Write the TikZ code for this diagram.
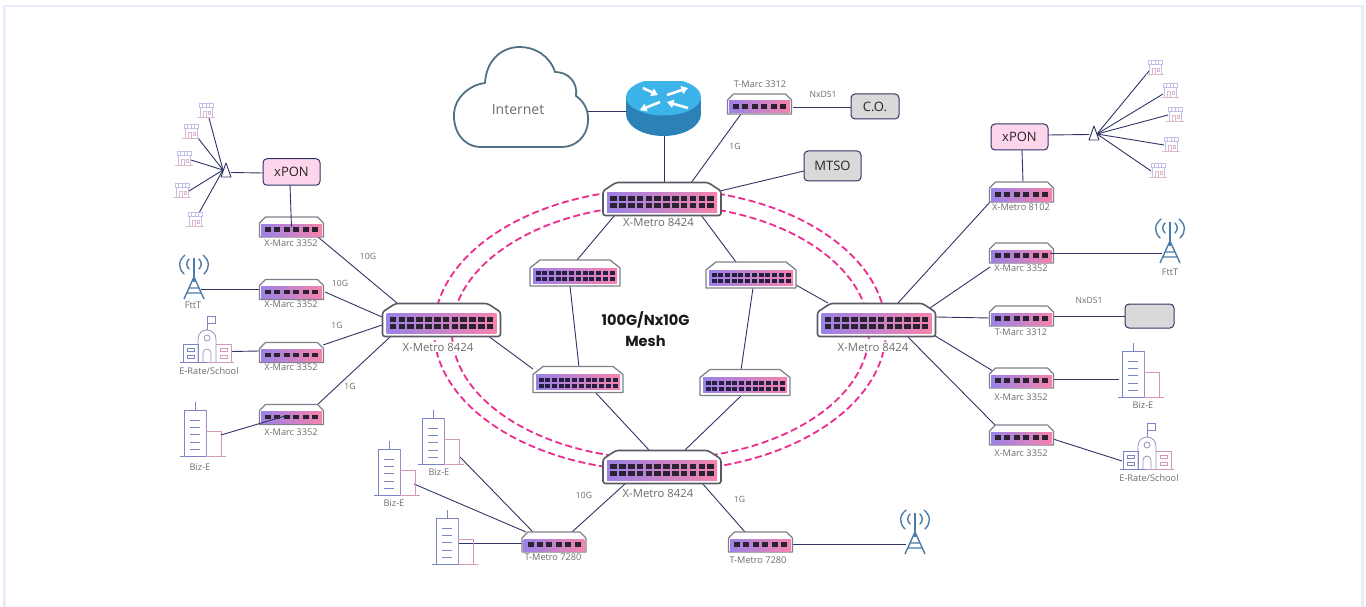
\documentclass[tikz,border=0pt]{standalone}
\usepackage{fontspec}
\setmainfont{Open Sans}
\newfontfamily\meshfont{Poppins}
\usetikzlibrary{arrows.meta}
\pgfdeclarelayer{bg}\pgfsetlayers{bg,main}
\definecolor{wire}{HTML}{2F3464}
\definecolor{ringc}{HTML}{EE2A8C}
\definecolor{grad1}{HTML}{9A82E6}
\definecolor{grad2}{HTML}{DC9CD0}
\definecolor{grad3}{HTML}{F683AC}
\definecolor{labelc}{HTML}{6C6C6C}
\definecolor{casec}{HTML}{80808C}
\definecolor{casedark}{HTML}{5A5A66}
\definecolor{portc}{HTML}{2A2230}
\definecolor{framec}{HTML}{ECECF8}
\definecolor{ponc}{HTML}{FDD6EB}
\definecolor{boxc}{HTML}{D9D9D9}
\definecolor{icona}{HTML}{7A84C6}
\definecolor{iconb}{HTML}{D29AB8}
\definecolor{iconc}{HTML}{C6BEEA}
\definecolor{towerc}{HTML}{4B7BA8}
\definecolor{cloudc}{HTML}{4F7184}
\definecolor{rtop}{HTML}{3CB4EA}
\definecolor{rside}{HTML}{2C82B6}
\tikzset{
  wirel/.style={draw=wire,line width=0.9pt},
  ringl/.style={draw=ringc,line width=1.8pt,dash pattern=on 7pt off 3.5pt},
  anchorbox/.style={inner sep=0pt,outer sep=0pt,rectangle},
  lab/.style={text=labelc,inner sep=0.5pt,font=\fontsize{9.2}{10}\selectfont},
  biglab/.style={text=labelc,inner sep=0pt,text height=9pt,text depth=1pt,fill=white,font=\fontsize{11.3}{13}\selectfont},
  tinylab/.style={text=labelc,inner sep=0.5pt,font=\fontsize{8.6}{10}\selectfont},
  graybox/.style={draw=wire,line width=1pt,fill=boxc,rounded corners=4pt,inner sep=0pt,text=black!85,font=\fontsize{13}{15}\selectfont},
  ponbox/.style={draw=wire,line width=1pt,fill=ponc,rounded corners=4pt,inner sep=0pt,text=black!85,font=\fontsize{13}{15}\selectfont},
  iconA/.style={draw=icona,line width=0.8pt},
  iconB/.style={draw=iconb,line width=0.8pt},
  shopl/.style={draw=iconc,line width=0.7pt},
  towerl/.style={draw=towerc,line width=1.4pt},
}
% small switch: name, x, y
\newcommand\swsmall[3]{
  \node[anchorbox,minimum width=64pt,minimum height=20pt] (#1) at (#2,#3) {};
  \begin{scope}[shift={(#2,#3)}]
    \draw[draw=casec,line width=1.1pt,fill=white,line join=round] (-32,10) -- (32,10) -- (32,-4) -- (26,-10) -- (-26,-10) -- (-32,-4) -- cycle;
    \shade[left color=grad1,middle color=grad2,right color=grad3] (-30.5,-3) rectangle (30.5,9);
    \foreach \i in {0,...,5} \fill[portc] ({-26.5+9.4*\i},0) rectangle ++(6,4.6);
  \end{scope}
}
% medium switch
\newcommand\swmid[3]{
  \node[anchorbox,minimum width=90pt,minimum height=26pt] (#1) at (#2,#3) {};
  \begin{scope}[shift={(#2,#3)}]
    \draw[draw=casec,line width=1.3pt,fill=white,line join=round] (-45,13) -- (45,13) -- (45,-5) -- (35,-13) -- (-35,-13) -- (-45,-5) -- cycle;
    \shade[left color=grad1,middle color=grad2,right color=grad3] (-42,-5) rectangle (42,10);
    \foreach \i in {0,...,11} {
      \fill[portc!90!blue] ({-39.5+6.73*\i},-2) rectangle ++(5,4);
      \fill[portc!90!blue] ({-39.5+6.73*\i},4) rectangle ++(5,4);
    }
  \end{scope}
}
% large switch
\newcommand\swbig[3]{
  \node[anchorbox,minimum width=118pt,minimum height=33pt] (#1) at (#2,#3) {};
  \begin{scope}[shift={(#2,#3)}]
    \draw[draw=casedark,line width=1.6pt,fill=white,rounded corners=2.5pt] (-59,16.5) -- (59,16.5) -- (59,-8) -- (46,-16.5) -- (-46,-16.5) -- (-59,-8) -- cycle;
    \shade[left color=grad1,middle color=grad2,right color=grad3] (-55,-6.5) rectangle (55,13.5);
    \foreach \i in {0,...,11} {
      \fill[portc] ({-51.7+8.82*\i},-3.2) rectangle ++(6.6,5);
      \fill[portc] ({-51.7+8.82*\i},4) rectangle ++(6.6,5);
    }
  \end{scope}
}
% storefront icon
\newcommand\shop[3]{
  \node[anchorbox,minimum width=16pt,minimum height=15pt] (#1) at (#2,#3) {};
  \begin{scope}[shift={(#2,#3)}]
    \draw[shopl] (-7,-7) rectangle (7,-2.5);
    \draw[shopl] (-3.5,-7) -- (-3.5,-2.5) (0,-7) -- (0,-2.5) (3.5,-7) -- (3.5,-2.5);
    \draw[shopl] (-6,-2.5) -- (-6,7) (6,-2.5) -- (6,7);
    \draw[iconb!70,line width=0.7pt] (-9,7) -- (9,7);
    \draw[iconb!70,line width=0.6pt] (-3,1) rectangle (0,7) (2,1) rectangle (4.5,4);
  \end{scope}
}
% building icon
\newcommand\bldg[3]{
  \node[anchorbox,minimum width=44pt,minimum height=54pt] (#1) at (#2,#3) {};
  \begin{scope}[shift={(#2,#3)}]
    \draw[iconA] (-8,-27) -- (-8,-19) (-19,27) -- (-19,-19) -- (3,-19);
    \draw[icona!60!iconb,line width=0.8pt] (3,-19) -- (3,27);
    \draw[iconB] (3,2) -- (18,2) -- (18,27);
    \foreach \yy in {-9,-2,5,13,20} \draw[icona,line width=0.9pt] (-13,\yy) -- (-3,\yy);
    \draw[iconA] (-23,27) -- (3,27);
    \draw[iconB] (3,27) -- (23,27);
  \end{scope}
}
% school icon
\newcommand\school[3]{
  \node[anchorbox,minimum width=54pt,minimum height=46pt] (#1) at (#2,#3) {};
  \begin{scope}[shift={(#2,#3)}]
    \draw[iconA] (-27,23) -- (0,23);
    \draw[iconB] (0,23) -- (27,23);
    \draw[iconA] (-9,23) -- (-9,5) -- (-24,5) -- (-24,23);
    \draw[iconB] (9,5) -- (24,5) -- (24,23);
    \draw[icona!60!iconb,line width=0.8pt] (-9,23) -- (-9,0) arc[start angle=180,end angle=360,radius=9] -- (9,23);
    \draw[iconA] (0,-9) -- (0,-23) -- (8,-23) -- (8,-16) -- (0,-16);
    \draw[icona!60!iconb,line width=0.8pt] (0,-1) circle[radius=3];
    \draw[icona!60!iconb,line width=0.8pt] (-4,23) -- (-4,14) arc[start angle=180,end angle=360,radius=4] -- (4,23);
    \draw[iconA] (-20,9) rectangle (-13,12) (-20,16) rectangle (-13,19);
    \draw[iconB] (13,9) rectangle (20,12) (13,16) rectangle (20,19);
  \end{scope}
}
% tower icon
\newcommand\tower[3]{
  \node[anchorbox,minimum width=20pt,minimum height=46pt] (#1) at (#2,#3) {};
  \begin{scope}[shift={(#2,#3)}]
    \draw[towerl] (0,-18) -- (0,6);
    \draw[towerl] (0,1) -- (-10,23) (0,1) -- (10,23) (-5.5,12) -- (5.5,12) (-7.5,17) -- (7.5,17);
    \draw[towerl,line cap=round] (-9,-21) .. controls (-16,-15) and (-16,-8) .. (-10,-2);
    \draw[towerl,line cap=round] (-5,-17) .. controls (-8,-14) and (-8,-10) .. (-5,-7);
    \draw[towerl,line cap=round] (9,-21) .. controls (16,-15) and (16,-8) .. (10,-2);
    \draw[towerl,line cap=round] (5,-17) .. controls (8,-14) and (8,-10) .. (5,-7);
  \end{scope}
}
\newcommand\splitter[3]{
  \node[anchorbox,minimum width=10pt,minimum height=14pt] (#1) at (#2,#3) {};
}
\newcommand\splittershape[1]{
  \draw[wirel,fill=white,line join=round] ([shift={(0,-7)}]#1.center) -- ([shift={(5,7)}]#1.center) -- ([shift={(-5,7)}]#1.center) -- cycle;
}
\newcommand\lk[4]{\draw[wirel] ([shift={(#2)}]#1.center) -- ([shift={(#4)}]#3.center);}
\begin{document}
\begin{tikzpicture}[x=1pt,y=-1pt]
\useasboundingbox (0,0) rectangle (1366,607);
% frame
\fill[framec] (3,5) rectangle (1364,7.5);
\fill[framec] (3,5) rectangle (6,607);
\fill[framec] (1361,5) rectangle (1364,607);

% cloud
\draw[draw=cloudc,line width=1.8pt,fill=white,line join=round]
  (480,147) .. controls (462,146) and (453,130) .. (454,113)
  .. controls (455,98) and (469,85) .. (485,83)
  .. controls (486,62) and (500,47) .. (520,47)
  .. controls (535,47) and (550,56) .. (555,72)
  .. controls (568,72) and (578,82) .. (576,96)
  .. controls (585,102) and (589,112) .. (588,122)
  .. controls (587,137) and (575,147) .. (562,147) -- cycle;
\node[inner sep=0pt,text=labelc,font=\fontsize{14}{16}\selectfont] (inet) at (518,110) {Internet};

% router
\node[anchorbox,minimum width=75pt,minimum height=54pt] (router) at (663.5,109) {};
\begin{scope}
  \clip (626,82) rectangle (701,136);
  \fill[rside] (626,97) rectangle (701,114);
  \fill[rside] (663.5,114) ellipse[x radius=37.5,y radius=22];
  \fill[rtop] (663.5,97) ellipse[x radius=37.5,y radius=18.5];
\end{scope}
\begin{scope}[line width=2.6pt,white,-{Triangle[width=8pt,length=6.5pt]}]
  \draw (643,88) -- (658,95);
  \draw (667,95) -- (688,88);
  \draw (660,102) -- (640,110);
  \draw (688,108) -- (667,102);
\end{scope}

% switches
\swbig{top}{662}{199}
\swbig{bigL}{441.5}{320}
\swbig{bigR}{876.5}{320}
\swbig{bot}{662}{467}
\swmid{mA}{575}{273}
\swmid{mB}{751}{275}
\swmid{mC}{578}{379.5}
\swmid{mD}{745}{382.5}
\swsmall{mLa}{291.5}{227}
\swsmall{mLb}{291.5}{289.5}
\swsmall{mLc}{291.5}{352.5}
\swsmall{mLd}{291.5}{414.5}
\swsmall{rX}{1021.5}{192}
\swsmall{rMa}{1021.5}{253}
\swsmall{rT}{1021.5}{316}
\swsmall{rMb}{1021.5}{378}
\swsmall{rMc}{1021.5}{435}
\swsmall{tT}{759.5}{104}
\swsmall{tmL}{554}{542}
\swsmall{tmR}{760.5}{542}

% boxes
\node[graybox,minimum width=48pt,minimum height=25pt] (co) at (875,106.5) {C.O.};
\node[graybox,minimum width=57pt,minimum height=30pt] (mtso) at (832.5,166) {MTSO};
\node[graybox,minimum width=49pt,minimum height=24pt] (boxR) at (1149.5,316) {};
\node[ponbox,minimum width=57pt,minimum height=26.5pt] (xL) at (291.5,172) {xPON};
\node[ponbox,minimum width=57pt,minimum height=26pt] (xR) at (1019.5,137) {xPON};

% icons
\shop{sa}{206}{110}\shop{sb}{191}{131}\shop{sc}{184}{158}\shop{sd}{182}{190}\shop{se}{195}{219}
\shop{ra}{1155}{67}\shop{rb}{1170}{90}\shop{rc}{1175}{114}\shop{rd}{1171}{144}\shop{re}{1158}{170}
\tower{twL}{194}{276}
\tower{twR}{1170}{240}
\tower{twB}{915}{531}
\school{schL}{207}{339}
\school{schR}{1147}{446}
\bldg{bizL}{203}{429}
\bldg{bizR}{1141}{370}
\bldg{bA}{441}{437}
\bldg{bB}{397}{468}
\bldg{bC}{455}{537}
\splitter{spL}{226}{170}
\splitter{spR}{1094}{133}

% connectors and rings behind the equipment
\begin{pgfonlayer}{bg}
  \draw[ringl] (660,330) ellipse[x radius=226,y radius=141];
  \draw[ringl] (660.5,332) ellipse[x radius=208.5,y radius=127];
  \lk{inet}{69,1}{router}{-37.5,2}
  \lk{router}{0.5,27}{top}{2,-16}
  \lk{top}{29,-16}{tT}{-18.5,10}
  \lk{tT}{33.5,3}{co}{-24,0.5}
  \lk{top}{58,-8}{mtso}{-28.5,5}
  \lk{top}{-47,16}{mA}{2,-13}
  \lk{top}{39,16}{mB}{-15,-13}
  \lk{mA}{-5,13}{mC}{1,-12.5}
  \lk{mB}{2,13}{mD}{-4,-12.5}
  \lk{mC}{17,12.5}{bot}{-13,-17}
  \lk{mD}{-3,12.5}{bot}{23,-17}
  \lk{bigL}{48,17}{mC}{-45,-10.5}
  \lk{bigR}{-48.5,-17}{mB}{45,10}
  \lk{bot}{-36,16}{tmL}{18,-10}
  \lk{bot}{40,16}{tmR}{-15.5,-10}
  \lk{tmL}{-32,1}{bC}{3,6}
  \lk{tmL}{-28,-10}{bB}{17,16}
  \lk{tmL}{-21,-10}{bA}{19,20}
  \lk{tmR}{32.5,2}{twB}{-9,13}
  \lk{mLa}{26.5,10}{bigL}{-44.5,-17}
  \lk{mLb}{33.5,2.5}{bigL}{-59.5,-3}
  \lk{mLc}{31.5,-7.5}{bigL}{-59.5,5}
  \lk{mLd}{25.5,-9.5}{bigL}{-51.5,17}
  \lk{xL}{-28.5,1}{spL}{5,2.5}
  \lk{twL}{7,13}{mLb}{-31.5,-0.5}
  \lk{schL}{24,12.5}{mLc}{-31.5,-1.5}
  \lk{bigR}{21.5,-17}{rX}{-31.5,10}
  \lk{bigR}{53.5,-12}{rMa}{-31.5,14}
  \lk{bigR}{59.5,-3}{rT}{-31.5,2}
  \lk{bigR}{55.5,14}{rMb}{-28.5,-7}
  \lk{bigR}{31.5,17}{rMc}{-26.5,-10}
  \lk{rT}{31.5,0.5}{boxR}{-24.5,0.5}
  \lk{rMb}{31.5,1}{bizR}{-22,9}
  \lk{rMc}{31.5,4}{schR}{-25,15}
  \lk{rX}{1.5,-10}{xR}{2.5,13}
  \lk{xR}{28.5,-2}{spR}{-5,1.5}
  \lk{spL}{-3,0}{sa}{3,8}
  \lk{spL}{-3,0}{sb}{7,7}
  \lk{spL}{-3,0}{sc}{7,2}
  \lk{spL}{-3,0}{sd}{7,1}
  \lk{spL}{-3,0}{se}{4,-6}
  \lk{spR}{3,1}{ra}{-6,4}
  \lk{spR}{3,1}{rb}{-7,4}
  \lk{spR}{3,1}{rc}{-7,1}
  \lk{spR}{3,1}{rd}{-7,1}
  \lk{spR}{3,1}{re}{-7,1}
\end{pgfonlayer}

% splitters
\splittershape{spL}
\splittershape{spR}

% connectors drawn over the equipment
\lk{xL}{-1.5,13}{mLa}{0,0}
\lk{bizL}{18,6}{mLd}{-6.5,1.5}
\lk{rMa}{28,0}{twR}{-8,13}

% labels
\node[biglab] (lTop) at (658.5,222) {X-Metro 8424};
\node[biglab] (lL) at (438,347) {X-Metro 8424};
\node[biglab] (lR) at (873,347) {X-Metro 8424};
\node[biglab] (lB) at (658,493) {X-Metro 8424};
\node[lab] (l1) at (291,243) {X-Marc 3352};
\node[lab] (l2) at (291,304) {X-Marc 3352};
\node[lab] (l3) at (291,367.5) {X-Marc 3352};
\node[lab] (l4) at (291,432.5) {X-Marc 3352};
\node[lab] (l5) at (1021,207) {X-Metro 8102};
\node[lab] (l6) at (1021,268) {X-Marc 3352};
\node[lab] (l7) at (1021,332) {T-Marc 3312};
\node[lab] (l8) at (1021,397) {X-Marc 3352};
\node[lab] (l9) at (1021,453) {X-Marc 3352};
\node[lab] (l10) at (760,84) {T-Marc 3312};
\node[lab] (l11) at (553,557) {T-Metro 7280};
\node[lab] (l12) at (758,560) {T-Metro 7280};
\node[lab] (t1) at (193,305) {FttT};
\node[lab] (t2) at (1170,272) {FttT};
\node[lab] (t3) at (209,371) {E-Rate/School};
\node[lab] (t4) at (1149,478) {E-Rate/School};
\node[lab] (t5) at (200,467) {Biz-E};
\node[lab] (t6) at (1143,405) {Biz-E};
\node[lab] (t7) at (439,472) {Biz-E};
\node[lab] (t8) at (394,503) {Biz-E};
\node[tinylab] (g1) at (368,256) {10G};
\node[tinylab] (g2) at (340,283) {10G};
\node[tinylab] (g3) at (337,325.5) {1G};
\node[tinylab] (g4) at (350,386) {1G};
\node[tinylab] (g5) at (735,146) {1G};
\node[tinylab] (g6) at (584,495) {10G};
\node[tinylab] (g7) at (739.5,499) {1G};
\node[tinylab] (n1) at (823,94) {NxDS1};
\node[tinylab] (n2) at (1089,300) {NxDS1};
\node[align=center,inner sep=0pt,text=black!90,font=\meshfont\bfseries\fontsize{14.6}{21}\selectfont] (mesh) at (645.5,329.5) {100G/Nx10G\\Mesh};
\end{tikzpicture}
\end{document}
